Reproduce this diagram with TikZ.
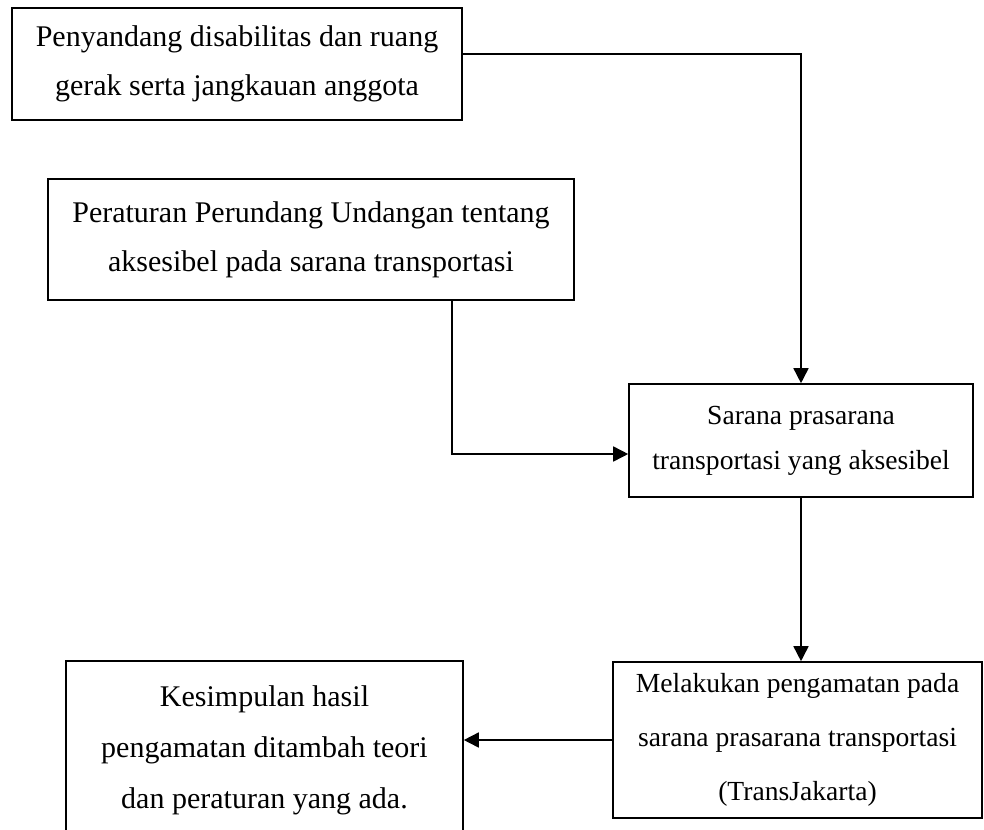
\documentclass[tikz,border=0pt]{standalone}
\usepackage{fontspec}
\setmainfont{Liberation Serif}
\usetikzlibrary{arrows.meta}
\tikzset{>=latex}
\tikzstyle{box}=[draw=black,line width=0.8,inner sep=0,align=center,
                 font=\fontsize{15}{24.5}\selectfont]
\tikzstyle{box small}=[box,font=\fontsize{13.8}{22.5}\selectfont]
\tikzstyle{flow}=[-{Triangle[length=7.5,width=7.5]},black,line width=0.8]

\begin{document}
\begin{tikzpicture}[x=0.5pt,y=-0.5pt]

        \clip (0,0) rectangle (984,829);

        % BOXES
        \node[box,minimum width=225pt,minimum height=56pt] (pd) at (237,64)
             {Penyandang disabilitas dan ruang\\gerak serta jangkauan anggota};
        \node[box,minimum width=263pt,minimum height=60.5pt] (pp) at (311,239.5)
             {Peraturan Perundang Undangan tentang\\aksesibel pada sarana transportasi};
        \node[box small,minimum width=172pt,minimum height=56.5pt] (sp) at (801,440.5)
             {Sarana prasarana\\transportasi yang aksesibel};
        \node[box small,minimum width=184.5pt,minimum height=78pt,
              font=\fontsize{13.8}{27}\selectfont] (mp) at (797.5,740)
             {Melakukan pengamatan pada\\sarana prasarana transportasi\\(TransJakarta)};
        \node[box,minimum width=198.5pt,minimum height=89.5pt,
              font=\fontsize{15}{25.5}\selectfont] (ks) at (264.5,750.5)
             {Kesimpulan hasil\\pengamatan ditambah teori\\dan peraturan yang ada.};

        % ARROWS
        \draw[flow] ([yshift=5pt]pd.east) -| (sp.north);
        \draw[flow] ([xshift=70.5pt]pp.south) |- ([yshift=-6.75pt]sp.west);
        \draw[flow] (sp.south) -- (sp.south |- mp.north);
        \draw[flow] (mp.west) -- (mp.west -| ks.east);

\end{tikzpicture}
\end{document}
